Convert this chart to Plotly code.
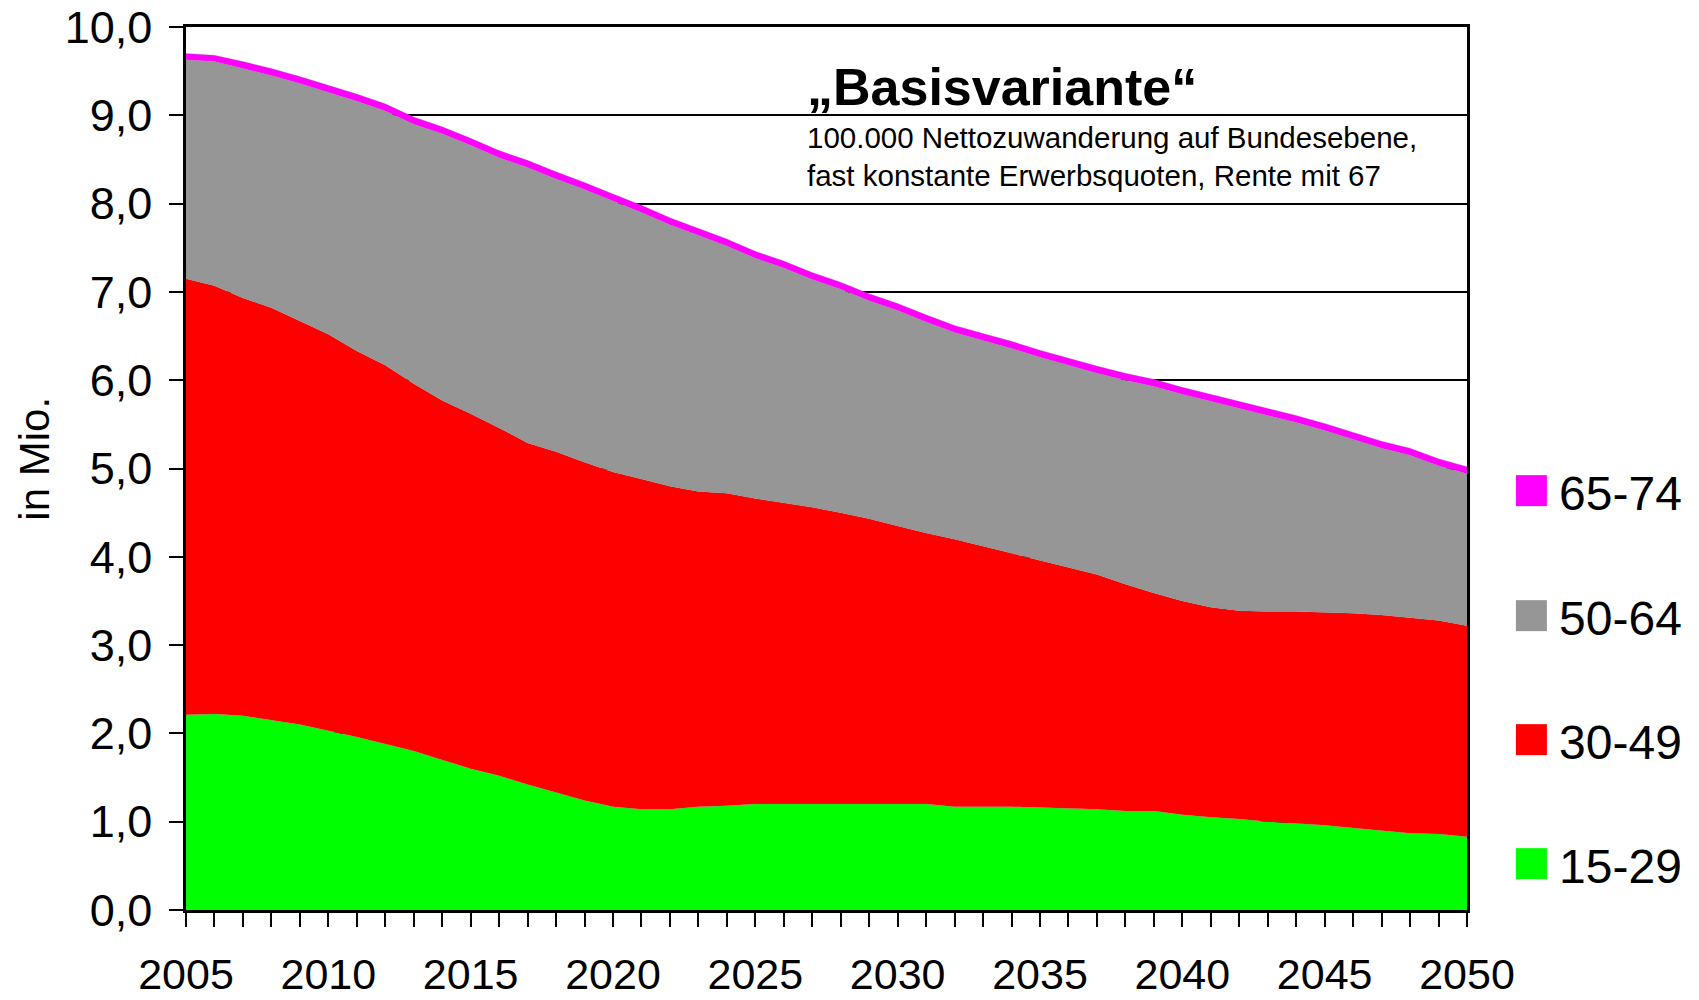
import plotly.graph_objects as go

# Erwerbspersonen nach Altersgruppen, "Basisvariante", in Mio.
years = list(range(2005, 2051))

age_15_29 = [2.21, 2.22, 2.20, 2.15, 2.10, 2.03, 1.96, 1.88, 1.80, 1.70,
             1.60, 1.52, 1.42, 1.33, 1.24, 1.17, 1.14, 1.14, 1.17, 1.18,
             1.20, 1.20, 1.20, 1.20, 1.20, 1.20, 1.20, 1.17, 1.17, 1.17,
             1.16, 1.15, 1.14, 1.12, 1.12, 1.08, 1.05, 1.03, 1.00, 0.98,
             0.96, 0.93, 0.90, 0.87, 0.86, 0.83]

age_30_49 = [4.94, 4.85, 4.73, 4.67, 4.57, 4.49, 4.37, 4.29, 4.16, 4.07,
             4.02, 3.94, 3.87, 3.86, 3.83, 3.79, 3.74, 3.66, 3.57, 3.54,
             3.46, 3.41, 3.36, 3.30, 3.23, 3.15, 3.07, 3.03, 2.95, 2.87,
             2.80, 2.73, 2.66, 2.57, 2.47, 2.42, 2.38, 2.36, 2.38, 2.40,
             2.41, 2.43, 2.44, 2.44, 2.42, 2.39]

age_50_64 = [2.48, 2.54, 2.60, 2.63, 2.69, 2.74, 2.83, 2.88, 2.94, 3.02,
             3.04, 3.06, 3.12, 3.09, 3.09, 3.07, 3.02, 2.96, 2.90, 2.80,
             2.72, 2.66, 2.58, 2.53, 2.47, 2.44, 2.39, 2.34, 2.33, 2.32,
             2.30, 2.29, 2.28, 2.31, 2.34, 2.34, 2.33, 2.29, 2.22, 2.14,
             2.06, 1.97, 1.89, 1.84, 1.75, 1.72]

age_65_74 = [0.07, 0.07, 0.08, 0.08, 0.08, 0.08, 0.08, 0.08, 0.08, 0.08,
             0.08, 0.08, 0.08, 0.08, 0.08, 0.08, 0.08, 0.08, 0.08, 0.08,
             0.08, 0.08, 0.08, 0.08, 0.08, 0.08, 0.08, 0.08, 0.08, 0.08,
             0.08, 0.08, 0.08, 0.08, 0.08, 0.08, 0.08, 0.08, 0.08, 0.08,
             0.08, 0.08, 0.08, 0.08, 0.08, 0.08]

groups = ["15-29", "30-49", "50-64", "65-74"]
colors = ["#00FF00", "#FF0000", "#969696", "#FF00FF"]
series = [age_15_29, age_30_49, age_50_64, age_65_74]

FONT = "Arial, Liberation Sans, sans-serif"

fig = go.Figure()

# stacked areas
for name, vals, col in zip(groups, series, colors):
    fig.add_trace(go.Scatter(
        x=years, y=vals, name=name, stackgroup="one", mode="lines",
        line=dict(width=0.5, color="rgba(120,120,120,0.5)"),
        fillcolor=col, showlegend=False,
    ))

# legend entries: big coloured square glyph in front of the label,
# plotly caps legend marker size so the symbol itself is hidden
for name, col in reversed(list(zip(groups, colors))):
    fig.add_trace(go.Scatter(
        x=[None], y=[None], mode="markers", legendgroup=name,
        name=(f"<span style='color:{col};font-size:64px'>■</span>"
              f"<span style='font-size:30px'> </span>{name}"),
        marker=dict(symbol="square", size=1, color="rgba(0,0,0,0)",
                    line=dict(width=0, color="rgba(0,0,0,0)")),
    ))

fig.add_annotation(
    text="„Basisvariante“", xref="paper", yref="y", x=0.4836, y=9.32,
    xanchor="left", yanchor="middle", showarrow=False,
    font=dict(family=FONT, size=52, color="black", weight="bold"),
)
fig.add_annotation(
    text="100.000 Nettozuwanderung auf Bundesebene,<br>fast konstante Erwerbsquoten, Rente mit 67",
    xref="paper", yref="y", x=0.4836, y=8.53, xanchor="left", yanchor="middle",
    align="left", showarrow=False, font=dict(family=FONT, size=29.5, color="black"),
)
fig.add_annotation(
    text="in Mio.", xref="paper", yref="paper", x=-0.118, y=0.511,
    xanchor="center", yanchor="middle", textangle=-90, showarrow=False,
    font=dict(family=FONT, size=42, color="black"),
)

fig.update_layout(
    width=1699, height=1000,
    margin=dict(l=186, r=229, t=27, b=90),
    plot_bgcolor="white", paper_bgcolor="white",
    separators=",.",
    font=dict(family=FONT, size=44, color="black"),
    legend=dict(
        x=1.004, xanchor="left", y=0.5166, yanchor="top",
        font=dict(family=FONT, size=48, color="black"),
        tracegroupgap=59, itemwidth=30,
    ),
    hovermode=False,
)

fig.update_xaxes(
    range=[2005, 2050], tick0=2005, dtick=5,
    ticks="outside", ticklen=14, tickwidth=2, tickcolor="black",
    minor=dict(dtick=1, ticks="outside", ticklen=14, tickwidth=2, tickcolor="black"),
    showline=True, linewidth=2.5, linecolor="black", mirror=True,
    showgrid=False, zeroline=False, ticklabelstandoff=11, automargin=False,
    tickfont=dict(family=FONT, size=43),
)
fig.update_yaxes(
    range=[0, 10], dtick=1, tickformat=".1f",
    ticks="outside", ticklen=14, tickwidth=2, tickcolor="black",
    showline=True, linewidth=2.5, linecolor="black", mirror=True,
    showgrid=True, gridcolor="black", gridwidth=1.5, zeroline=False,
    ticklabelstandoff=8, automargin=False,
    tickfont=dict(family=FONT, size=45),
)

# drop the default 8px page margin so the figure fills the window exactly
fig.write_html("out.html", config={"displayModeBar": False},
               post_script="document.body.style.margin='0';")
